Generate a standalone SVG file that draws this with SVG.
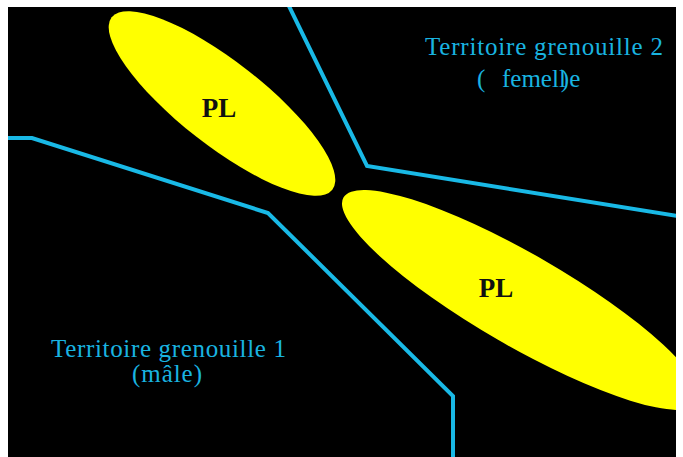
<svg xmlns="http://www.w3.org/2000/svg" width="683" height="457" viewBox="0 0 683 457">
<style>
.pond{fill:#ffff00}
.bound{fill:none;stroke:#19b9e6;stroke-width:4;stroke-linejoin:miter}
.lbl{font-family:"Liberation Serif","Times New Roman",serif;font-size:25px;fill:#19b4e0}
.pl{font-family:"Liberation Serif","Times New Roman",serif;font-size:27px;font-weight:bold;fill:#111}
</style>
<defs><clipPath id="clip"><rect x="8" y="7" width="668" height="450"/></clipPath></defs>
<rect x="0" y="0" width="683" height="457" fill="#ffffff"/>
<rect x="8" y="7" width="668" height="450" fill="#000000"/>
<g clip-path="url(#clip)">
<g id="pond1"><ellipse class="pond" cx="222" cy="103.5" rx="140" ry="42" transform="rotate(38 222 103.5)"/><text class="pl" x="219" y="117" text-anchor="middle">PL</text></g>
<g id="pond2"><ellipse class="pond" cx="521" cy="300" rx="205" ry="46" transform="rotate(30 521 300)"/><text class="pl" x="496" y="297" text-anchor="middle">PL</text></g>
<g id="connectors">
<polyline class="bound" points="0,138 32,138 268,213 453,396 453,460"/>
<polyline class="bound" points="286,0 367,166 690,218"/>
</g>
<g id="territory2"><text class="lbl" x="425" y="55" textLength="238">Territoire grenouille 2</text>
<text class="lbl" x="477" y="87">(<tspan x="502">femell</tspan><tspan dx="-5">)</tspan>e</text></g>
<g id="territory1"><text class="lbl" x="51" y="357" textLength="235">Territoire grenouille 1</text>
<text class="lbl" x="132" y="382" textLength="70">(mâle)</text></g>
</g>
</svg>
